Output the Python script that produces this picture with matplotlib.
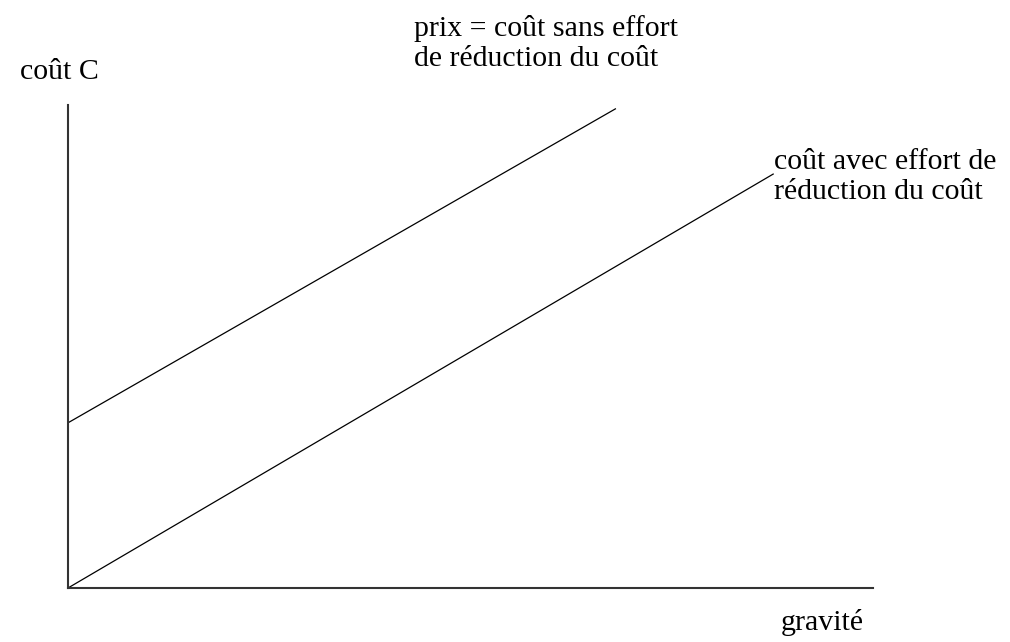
import matplotlib.pyplot as plt

# axis extent (arbitrary units)
x_max = 100
y_max = 100

# the two cost lines: start and end points in data units
gravite_prix = [0, 68.0]
cout_prix = [34.2, 99.2]

gravite_effort = [0, 87.6]
cout_effort = [0, 85.7]

labels_prix = ["prix = coût sans effort", "de réduction du coût"]
labels_effort = ["coût avec effort de", "réduction du coût"]

W, H = 1010, 642
fig = plt.figure(figsize=(W / 100, H / 100), dpi=100)
plt.rcParams['font.family'] = ['Liberation Serif', 'DejaVu Serif']

# axes box: origin at (68, 588) px, top at 105 px, right end at 873 px
ax = fig.add_axes([68 / W, (H - 588) / H, 805 / W, 483 / H])
ax.set_xlim(0, x_max)
ax.set_ylim(0, y_max)
for side in ['top', 'right']:
    ax.spines[side].set_visible(False)
for side in ['left', 'bottom']:
    ax.spines[side].set_linewidth(1.5)
    ax.spines[side].set_color('#333333')
ax.set_xticks([])
ax.set_yticks([])
ax.patch.set_alpha(0)

ax.plot(gravite_prix, cout_prix, color='black', lw=0.9, clip_on=False)
ax.plot(gravite_effort, cout_effort, color='black', lw=0.9, clip_on=False)

fs = 21.5


def px_text(x, y, s):
    fig.text(x / W, 1 - y / H, s, fontsize=fs, ha='left', va='center')


px_text(20, 72, "coût C")
px_text(414, 29, labels_prix[0])
px_text(414, 59, labels_prix[1])
px_text(774, 162, labels_effort[0])
px_text(774, 192, labels_effort[1])
px_text(781, 623, "gravité")

fig.savefig('out.png', dpi=100)
